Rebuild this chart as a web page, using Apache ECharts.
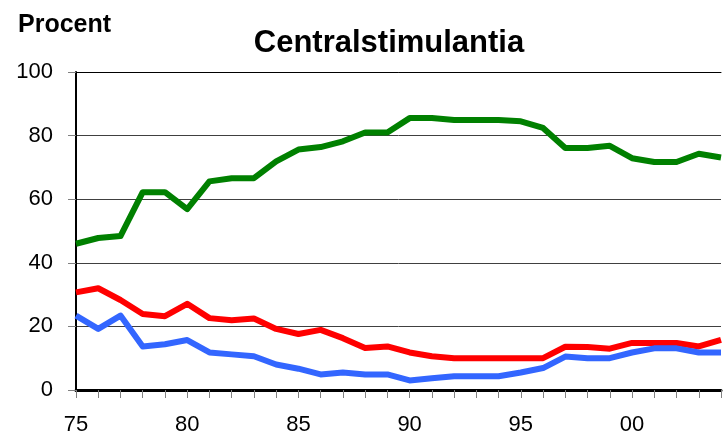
<!DOCTYPE html>
<html>
<head>
<meta charset="utf-8">
<script src="https://cdn.jsdelivr.net/npm/echarts@6/dist/echarts.min.js"></script>
<style>
  html, body { margin: 0; padding: 0; background: #fff; }
  #chart { width: 724px; height: 436px; }
</style>
</head>
<body>
<div id="chart"></div>
<script>
// years on the x axis (the picture is cut off just after 2003)
const years = [1975, 1976, 1977, 1978, 1979, 1980, 1981, 1982, 1983, 1984,
               1985, 1986, 1987, 1988, 1989, 1990, 1991, 1992, 1993, 1994,
               1995, 1996, 1997, 1998, 1999, 2000, 2001, 2002, 2003, 2004];

// percent values
const greenValues = [46.0, 47.8, 48.4, 62.2, 62.2, 56.9, 65.6, 66.6, 66.6, 71.9,
                     75.6, 76.4, 78.2, 81.0, 81.0, 85.5, 85.5, 84.9, 84.9, 84.9,
                     84.5, 82.4, 76.1, 76.1, 76.8, 72.9, 71.7, 71.7, 74.3, 73.1];
const redValues   = [30.7, 32.0, 28.3, 23.9, 23.2, 27.1, 22.6, 21.9, 22.5, 19.2,
                     17.6, 18.9, 16.3, 13.2, 13.7, 11.8, 10.6, 10.0, 10.0, 10.0,
                     10.0, 10.0, 13.6, 13.5, 13.0, 14.8, 14.8, 14.8, 13.7, 15.8];
const blueValues  = [23.4, 19.2, 23.4, 13.7, 14.4, 15.7, 11.8, 11.2, 10.6, 8.0,
                     6.7, 4.9, 5.5, 4.9, 4.9, 3.0, 3.7, 4.3, 4.3, 4.3,
                     5.5, 6.9, 10.5, 10.0, 10.0, 11.8, 13.1, 13.1, 11.8, 11.8];

const toPairs = vals => years.map((y, i) => [y, vals[i]]);

const chart = echarts.init(document.getElementById('chart'));

function lineSeries(name, vals, color) {
    return {
        name: name,
        type: 'line',
        data: toPairs(vals),
        symbol: 'none',
        lineStyle: { color: color, width: 6, join: 'round' },
        z: 3
    };
}

chart.setOption({
    animation: false,
    backgroundColor: '#ffffff',
    textStyle: { fontFamily: 'Liberation Sans, Arial, sans-serif' },
    graphic: [
        {
            type: 'text', x: 18, y: 25,
            style: {
                text: 'Procent', font: 'bold 25px "Liberation Sans", Arial, sans-serif',
                fill: '#000', textVerticalAlign: 'middle'
            }
        },
        {
            type: 'text', x: 389, y: 43,
            style: {
                text: 'Centralstimulantia', font: 'bold 31px "Liberation Sans", Arial, sans-serif',
                fill: '#000', textAlign: 'center', textVerticalAlign: 'middle'
            }
        }
    ],
    grid: { left: 76, right: -4, top: 72, bottom: 46 },
    xAxis: [
        {
            type: 'value',
            min: 1975,
            max: 2004,
            interval: 1,
            axisLine: { lineStyle: { color: '#000', width: 3 } },
            axisTick: { length: 8, lineStyle: { color: '#808080', width: 1 } },
            axisLabel: {
                color: '#000', fontSize: 22, margin: 24,
                formatter: v => (v % 5 === 0 ? String(v).slice(2) : '')
            },
            splitLine: { show: false }
        },
        {
            type: 'value',
            position: 'top',
            min: 1975,
            max: 2004,
            axisLine: { lineStyle: { color: '#000', width: 1 } },
            axisTick: { show: false },
            axisLabel: { show: false },
            splitLine: { show: false }
        }
    ],
    yAxis: {
        type: 'value',
        min: 0,
        max: 100,
        interval: 20,
        axisLine: { show: true, lineStyle: { color: '#000', width: 2 } },
        axisTick: { show: true, length: 8, lineStyle: { color: '#808080' } },
        axisLabel: { color: '#000', fontSize: 22, margin: 23 },
        splitLine: { lineStyle: { color: '#404040', width: 1 } }
    },
    series: [
        lineSeries('Grön', greenValues, '#008000'),
        lineSeries('Röd', redValues, '#ff0000'),
        lineSeries('Blå', blueValues, '#3366ff')
    ]
});
</script>
</body>
</html>
